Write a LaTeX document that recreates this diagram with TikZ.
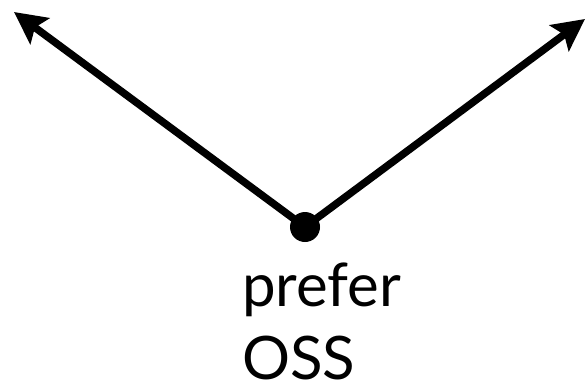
\documentclass[tikz,border=0pt]{standalone}
\usepackage{fontspec}
\setmainfont{Lato}
\usetikzlibrary{arrows.meta,positioning}

\begin{document}
\begin{tikzpicture}[x=1pt,y=-1pt,
        choice/.style={line width=7.5pt, -{Stealth[length=32pt,width=32pt,inset=6pt]}},
        pivot/.style={circle, fill=black, inner sep=0pt, minimum size=30pt}]
        \useasboundingbox (0,0) rectangle (585,391);
        \node[pivot] (dot) at (305,227) {};
        \coordinate (lefttip) at (14,12);
        \coordinate (righttip) at (585,19);
        \draw[choice] (dot.center) -- (lefttip);
        \draw[choice] (dot.center) -- (righttip);
        \node[anchor=base west, inner sep=0pt, align=left, font=\fontsize{60}{73}\selectfont] (label) at (242,379) {prefer\\OSS};
    \end{tikzpicture}
\end{document}
